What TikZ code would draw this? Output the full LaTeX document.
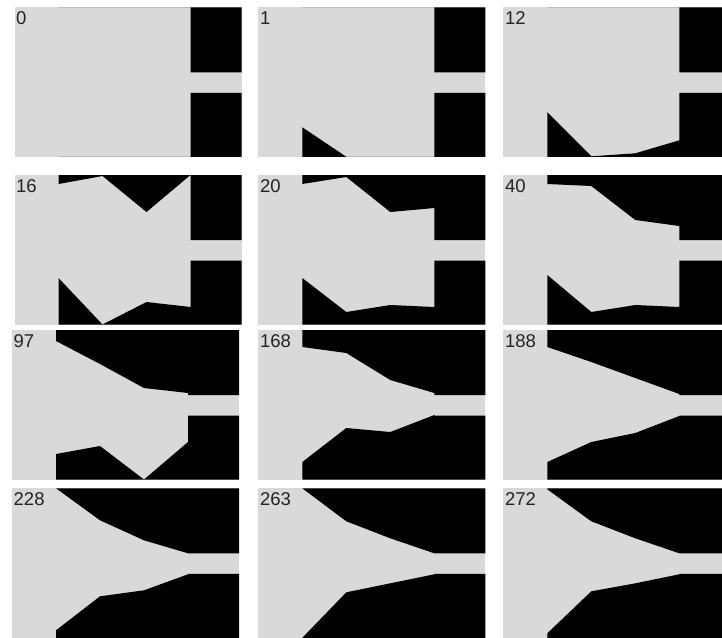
\documentclass[tikz,border=0pt]{standalone}
\usepackage{fontspec}
\setmainfont{Liberation Sans}
\definecolor{panelgray}{RGB}{217,217,217}
\definecolor{labelcol}{RGB}{35,35,35}
\tikzset{
  bgpanel/.style={fill=panelgray},
  blk/.style={fill=black},
  lbl/.style={anchor=base west, inner sep=0pt, text=labelcol, font=\fontsize{18.5}{20}\selectfont},
}
\begin{document}
\begin{tikzpicture}[x=1pt,y=-1pt]
\useasboundingbox (0,0) rectangle (722,637);
\clip (0,0) rectangle (722,637);
\fill[white] (0,0) rectangle (722,637);
\foreach \ox/\oy/\lab/\ta/\tb/\tc/\td/\ba/\bb/\bc/\bd in {
  14.5/7.3/0/0/0/0/0/149.5/149.5/149.5/149.5,
  258.3/7.3/1/0/0/0/0/120/149.5/149.5/149.5,
  503.3/7.3/12/0/0/0/0/105/149/146/133,
  14.5/175/16/9/1/37/0/103/149.5/127/132,
  258.3/175/20/9/2/37/33/103/137/130/132,
  503.3/175/40/9/11/45/51/100/137/130/132,
  12/330/97/11/34/58/63/124/116/149.5/112,
  258.3/330/168/17/23/50/63/132/98/102/85,
  503.3/330/188/17/32/48/64/132/112/103/86,
  12/488.3/228/0/32/52/65/142/108/102/86,
  258.3/488.3/263/0/33/50/65/149.5/104/95/86,
  503.3/488.3/272/1/33/50/65/145/103/95/86}{
  \begin{scope}[shift={(\ox,\oy)}]
    \fill[bgpanel] (0,0) rectangle (227,149.5);
    \fill[blk] (44,0) -- (44,\ta) -- (88,\tb) -- (132,\tc) -- (176,\td) -- (176,65) -- (227,65) -- (227,0) -- cycle;
    \fill[blk] (44,149.5) -- (44,\ba) -- (88,\bb) -- (132,\bc) -- (176,\bd) -- (176,85.5) -- (227,85.5) -- (227,149.5) -- cycle;
    \node[lbl] (p\lab) at (1.5,17.5) {\lab};
  \end{scope}
}
\end{tikzpicture}
\end{document}
